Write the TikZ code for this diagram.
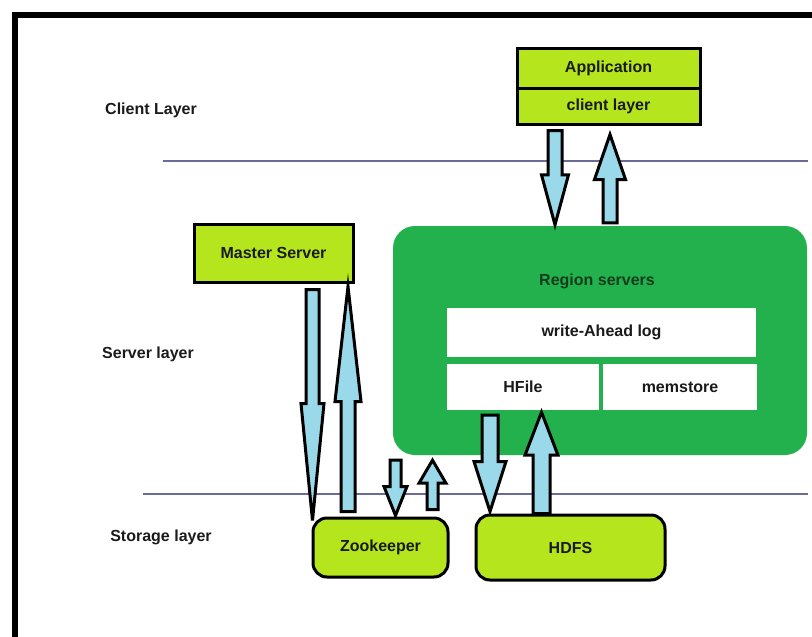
\documentclass[tikz,border=0pt]{standalone}
\usepackage{fontspec}
\setmainfont{Liberation Sans}
\usetikzlibrary{calc}
\definecolor{lime}{HTML}{B5E61D}
\definecolor{regiongreen}{HTML}{22B14C}
\definecolor{pipeblue}{HTML}{99D9EA}
\definecolor{layerline}{HTML}{6B6B9A}
\definecolor{darktext}{HTML}{1A1A1A}
\definecolor{greentext}{HTML}{143C1E}

% vertical block arrow from a tail point to a tip point:
% #1 tail, #2 tip, #3 head length, #4 shaft half width, #5 head half width (pt)
\newcommand{\blockarrow}[5]{%
  \draw[pipe] let \p1=#1, \p2=#2, \n1={(\y1-\y2)/abs(\y1-\y2)} in
    ({\x1-#4pt},\y1) -- ({\x1-#4pt},{\y2+\n1*#3pt}) -- ({\x1-#5pt},{\y2+\n1*#3pt})
    -- (\x1,\y2)
    -- ({\x1+#5pt},{\y2+\n1*#3pt}) -- ({\x1+#4pt},{\y2+\n1*#3pt}) -- ({\x1+#4pt},\y1)
    -- cycle;}

\tikzset{
  lbl/.style={font=\fontsize{16}{18}\selectfont\bfseries, text=darktext, inner sep=0pt},
  limebox/.style={draw=black, line width=3pt, fill=lime, inner sep=0pt,
    font=\fontsize{16}{18}\selectfont\bfseries, text=darktext},
  storebox/.style={limebox, rounded corners=14pt},
  whitebox/.style={fill=white, inner sep=0pt,
    font=\fontsize{16}{18}\selectfont\bfseries, text=darktext},
  pipe/.style={draw=black, line width=3pt, fill=pipeblue, line join=miter},
  layer/.style={draw=layerline, line width=1.3pt},
}

\begin{document}
\begin{tikzpicture}[x=1pt, y=-1pt]
  \useasboundingbox (0,0) rectangle (812,637);

  % outer frame (top and left edges only)
  \draw[line width=5.5pt, line join=miter] (15,637) -- (15,15) -- (812,15);

  % layer labels
  \node[lbl] (clientlbl)  at (151,110) {Client Layer};
  \node[lbl] (serverlbl)  at (148,354) {Server layer};
  \node[lbl] (storagelbl) at (161,537) {Storage layer};

  % layer separators
  \draw[layer] (163,161) -- (808,161);
  \draw[layer] (143,494) -- (808,494);

  % client side
  \node[limebox, minimum width=183pt, minimum height=40pt] (app)    at (608.5,68)  {Application};
  \node[limebox, minimum width=183pt, minimum height=36pt] (client) at (608.5,106) {client layer};

  % region servers
  \node[fill=regiongreen, rounded corners=22pt, minimum width=414pt, minimum height=229pt,
        inner sep=0pt] (region) at (600,340.5) {};
  \node[lbl, text=greentext] (regiontitle) at (597,281) {Region servers};
  \node[whitebox, minimum width=309pt, minimum height=49pt] (wal)      at (601.5,332.5) {write-Ahead log};
  \node[whitebox, minimum width=152pt, minimum height=46pt] (hfile)    at (523,387)     {HFile};
  \node[whitebox, minimum width=154pt, minimum height=46pt] (memstore) at (680,387)     {memstore};

  % master and storage
  \node[limebox, minimum width=159pt, minimum height=58pt] (master) at (273.5,253) {Master Server};
  \node[storebox, minimum width=135pt, minimum height=59pt] (zk)   at (380.5,547.5) {Zookeeper};
  \node[storebox, minimum width=189pt, minimum height=65pt] (hdfs) at (570.5,547.5) {HDFS};

  % client <-> region servers
  \blockarrow{([xshift=-53.5pt,yshift=-5pt]client.south)}{([xshift=-45pt,yshift=1pt]region.north)}{50}{7}{13.5}
  \blockarrow{([xshift=10pt,yshift=3pt]region.north)}{([xshift=1.5pt,yshift=-9pt]client.south)}{45}{7}{15.5}

  % master <-> zookeeper
  \blockarrow{([xshift=39pt,yshift=-6pt]master.south)}{([xshift=-68pt,yshift=-4pt]zk.north)}{117}{6.5}{11.5}
  \blockarrow{([xshift=-32.5pt,yshift=5pt]zk.north)}{([xshift=74.5pt,yshift=-3pt]master.south)}{115}{7}{13}

  % region servers <-> zookeeper
  \blockarrow{([xshift=-204.5pt,yshift=-5pt]region.south)}{([xshift=15pt,yshift=1pt]zk.north)}{29}{5.5}{11.5}
  \blockarrow{([xshift=52pt,yshift=7pt]zk.north)}{([xshift=-167.5pt,yshift=-5pt]region.south)}{23}{5.5}{13.5}

  % HFile <-> HDFS
  \blockarrow{([xshift=-33pt,yshift=-5pt]hfile.south)}{([xshift=-80.5pt,yshift=2pt]hdfs.north)}{50}{8}{16}
  \blockarrow{([xshift=-29pt]hdfs.north)}{([xshift=18.5pt,yshift=-2pt]hfile.south)}{43}{8.5}{16.5}
\end{tikzpicture}
\end{document}
